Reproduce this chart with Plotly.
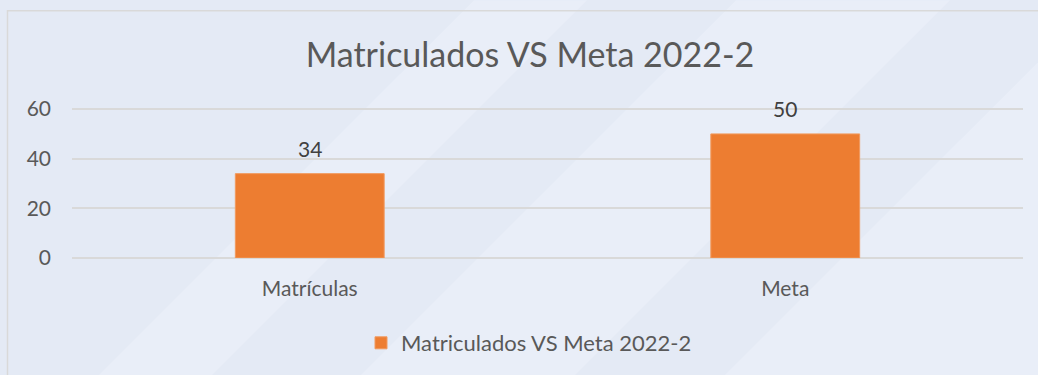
import plotly.graph_objects as go

# Chart data
categories = ["Matrículas", "Meta"]
values = [34, 50]
series_name = "Matriculados VS Meta 2022-2"
chart_title = "Matriculados VS Meta 2022-2"
y_ticks = [0, 20, 40, 60]
y_max = 60.85

W, H = 1038, 375
# plot-area box in pixels (y = 0 at B, y = 60 at 109)
L, R, B = 72, 1023, 258
T = B - 149 * y_max / 60

FONT = "Lato"
BAR = "#ed7d31"
GRID = "#d9d9d9"
TXT = "#595959"


def px(x, y):
    """Convert page pixel coordinates to paper coordinates."""
    return (x - L) / (R - L), (B - y) / (B - T)


def band(c1, c2):
    """Diagonal band between lines x + y = c1 and x + y = c2 (45 deg)."""
    pts = [(c1, 0), (c2, 0), (c2 - H, H), (c1 - H, H)]
    conv = [px(x, y) for x, y in pts]
    path = "M " + " L ".join(f"{a:.4f},{b:.4f}" for a, b in conv) + " Z"
    return dict(type="path", xref="paper", yref="paper", path=path,
                fillcolor="#e9eef8", line=dict(width=0), layer="below")


shapes = [band(474, 587), band(736, 950), band(1100, 1500)]
bx0, by0 = px(7.5, 10.5)
bx1, by1 = px(1050, 390)
shapes.append(dict(type="rect", xref="paper", yref="paper",
                   x0=bx0, y0=by1, x1=bx1, y1=by0,
                   line=dict(color=GRID, width=1.5), fillcolor="rgba(0,0,0,0)",
                   layer="below"))

fig = go.Figure(
    go.Bar(
        x=categories,
        y=values,
        name=series_name,
        marker=dict(color=BAR, line=dict(color="#f19a5e", width=1)),
        width=0.313,
        showlegend=True,
        hoverinfo="x+y",
    )
)

annotations = [
    dict(x=c, y=v, text=str(v), showarrow=False, yshift=25, yanchor="middle",
         font=dict(family=FONT, size=21, color="#404040"))
    for c, v in zip(categories, values)
]

fig.update_layout(
    width=W,
    height=H,
    margin=dict(l=L, r=W - R, t=T, b=H - B, pad=0),
    paper_bgcolor="#e4eaf5",
    plot_bgcolor="rgba(0,0,0,0)",
    font=dict(family=FONT, color=TXT, size=21),
    title=dict(text=chart_title, x=530 / W, y=1 - 55 / H, xanchor="center",
               yanchor="middle", xref="container", yref="container",
               font=dict(family=FONT, size=34, color=TXT)),
    xaxis=dict(showgrid=False, zeroline=False, showline=False, ticks="",
               ticklabelstandoff=16, tickfont=dict(size=21, color=TXT)),
    yaxis=dict(range=[0, y_max], tickvals=y_ticks, showgrid=True, gridcolor=GRID,
               gridwidth=1.5, zeroline=True, zerolinecolor=GRID, zerolinewidth=1.5,
               showline=False, ticks="", ticklabelstandoff=20,
               tickfont=dict(size=21, color=TXT)),
    legend=dict(orientation="h", x=529 / W, y=1 - 343 / H, xref="container",
                yref="container", xanchor="center", yanchor="middle",
                font=dict(family=FONT, size=22, color=TXT),
                bgcolor="rgba(0,0,0,0)", itemwidth=30),
    shapes=shapes,
    annotations=annotations,
    bargap=0.687,
)

fig.write_html("out.html")
